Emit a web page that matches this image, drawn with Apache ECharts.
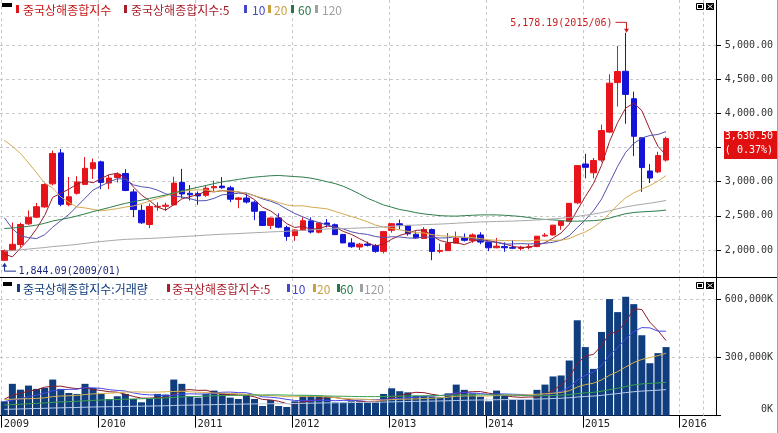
<!DOCTYPE html>
<html><head><meta charset="utf-8">
<script src="https://cdn.jsdelivr.net/npm/echarts@6/dist/echarts.min.js"></script>
<style>html,body{margin:0;padding:0;background:#fff;overflow:hidden}#c{width:778px;height:433px}</style>
</head><body><div id="c"></div>
<script>
// ---------- data ----------
const startYear = 2009, monthCount = 83; // 2009/01 .. 2015/11
const yearLabels = ['2009','2010','2011','2012','2013','2014','2015','2016'];
const priceTicks = [2000,2500,3000,3500,4000,4500,5000];
const volTicks = [0,300000,600000];
const lastChangePct = 0.37;

const open = [1849,1992,2080,2383,2480,2630,2968,3421,2663,2830,2960,3190,
 3290,2980,3060,3120,2850,2580,2373,2630,2640,2660,2990,2830,
 2825,2800,2910,2935,2910,2740,2760,2700,2560,2360,2470,2330,
 2212,2290,2426,2260,2396,2370,2226,2104,2044,2087,2067,1980,
 2289,2384,2360,2230,2170,2300,1980,1990,2100,2174,2140,2220,
 2112,2033,2050,2035,2022,2040,2050,2205,2220,2360,2420,2690,
 3258,3130,3316,3725,4450,4616,4214,3643,3157,3143,3316];
const high = [2007,2403,2400,2580,2689,2975,3454,3478,3068,3080,3361,3338,
 3307,3105,3135,3182,2891,2665,2682,2698,2693,3073,3187,2950,
 2857,2942,3015,3067,2940,2775,2826,2723,2570,2475,2537,2356,
 2302,2478,2478,2400,2454,2388,2238,2172,2103,2123,2085,2276,
 2394,2445,2365,2273,2334,2314,2092,2249,2270,2242,2242,2260,
 2117,2177,2111,2146,2061,2087,2203,2248,2367,2430,2685,3239,
 3407,3347,3836,4572,4987,5178.19,4317,3625,3257,3437,3658];
const low = [1844.09,1990,2037,2367,2467,2620,2945,2640,2639,2810,2950,3040,
 2890,2890,2988,2861,2481,2382,2320,2573,2573,2658,2758,2725,
 2661,2777,2855,2895,2700,2611,2680,2437,2356,2307,2319,2134,
 2133,2286,2242,2242,2330,2219,2100,2032,1999,2051,1960,1949,
 2254,2303,2210,2161,2166,1850,1952,1990,2100,2124,2105,2085,
 1984,2025,1974,2014,1991,2010,2042,2193,2210,2296,2417,2670,
 3049,3050,3287,3710,4099,3848,3374,2851,2979,3125,3293];
const close = [1991,2083,2373,2478,2633,2959,3412,2668,2779,2996,3195,3277,
 2989,3052,3109,2871,2592,2398,2638,2639,2656,2979,2820,2808,
 2791,2905,2928,2912,2743,2762,2702,2567,2359,2468,2333,2199,
 2293,2428,2263,2396,2372,2225,2104,2048,2086,2069,1980,2269,
 2385,2366,2237,2178,2301,1979,1994,2098,2175,2142,2221,2116,
 2033,2056,2033,2026,2039,2048,2202,2217,2364,2420,2683,3235,
 3210,3310,3748,4442,4612,4277,3664,3206,3053,3383,3630.5];
// monthly volume, in K
const volume = [74,164,134,155,138,143,186,138,117,112,164,143,
 112,86,100,112,86,69,86,112,109,186,164,100,
 93,112,129,117,93,86,103,86,50,81,50,45,
 74,103,103,103,93,69,69,74,74,69,69,112,
 141,126,120,103,103,98,95,115,160,133,115,98,
 74,129,103,83,83,83,133,160,202,207,284,491,
 353,241,431,600,533,612,574,414,270,322,353].map(v => v * 1000);
// monthly closes before the window (1999/02 .. 2008/12), used for the moving averages
const prevCloses = [1090,1158,1120,1280,1689,1601,1627,1556,1524,1476,1367,
 1535,1715,1801,1836,1894,1928,2023,2001,1910,1961,2070,2073,
 1958,1907,2112,2119,2214,2218,1920,1834,1707,1690,1748,1646,
 1491,1524,1604,1667,1518,1733,1655,1669,1581,1507,1422,1357,
 1500,1512,1510,1521,1576,1487,1476,1421,1367,1348,1397,1497,
 1590,1675,1742,1595,1555,1399,1386,1342,1396,1320,1340,1266,
 1191,1306,1181,1159,1060,1080,1083,1162,1155,1092,1099,1161,
 1258,1299,1298,1440,1641,1672,1612,1658,1753,1837,2099,2675,
 2786,2881,3184,3841,4109,3821,4471,5219,5552,5955,4871,5262,
 4383,4348,3472,3693,3433,2736,2775,2397,2293,1729,1871,1821];
// monthly volume before the window (1999/02 .. 2008/12), in K
const prevVolume = [5,6,7,22,28,12,9,8,6,6,5,
 10,13,16,12,11,14,15,16,10,9,13,14,
 12,10,16,14,13,12,7,6,5,7,8,6,
 5,6,8,10,7,17,9,7,5,5,5,5,
 10,9,8,14,13,9,8,7,6,6,9,12,
 20,24,26,18,12,10,9,10,14,12,11,9,
 8,14,11,12,10,14,11,22,18,12,13,20,
 24,22,23,40,75,60,45,32,40,38,68,110,
 130,95,140,180,200,120,100,140,110,80,60,75,
 95,70,75,80,75,50,55,45,60,85,100,105].map(v => v * 1000);

// ---------- helpers ----------
const months = [];
for (let i = 0; i < monthCount; i++) {
  const y = startYear + Math.floor(i / 12), m = i % 12 + 1;
  months.push(y + '/' + (m < 10 ? '0' : '') + m);
}
function fmtNum(v, d) {
  const s = Number(v).toFixed(d); const parts = s.split('.');
  return parts[0].replace(/\B(?=(\d{3})+(?!\d))/g, ',') + (parts[1] ? '.' + parts[1] : '');
}
function movingAvg(n, vals, prev) {
  const all = prev.concat(vals), off = prev.length;
  return vals.map((_, i) => { let s = 0; for (let k = off + i - n + 1; k <= off + i; k++) s += all[k]; return s / n; });
}
const maPeriods = [5, 10, 20, 60, 120];
const MAC = {5:'#9a1e2c',10:'#5252b0',20:'#d6aa50',60:'#2e7d4a',120:'#a8a8a8'};
const VMAC = {5:'#8c1a28',10:'#4848e8',20:'#d4b050',60:'#3ca050',120:'#b8cce8'};
const UP = '#e8141c', DOWN = '#1414d8', VOLC = '#0f3d7d';
const GRIDC = '#c8c8c8';
const MONO = '"DejaVu Sans Mono", monospace';
const KR = '"Noto Sans CJK KR", sans-serif';

// layout (month-index units on x)
const xMin = -0.533, xMax = 88.19;
const yearPos = yearLabels.map((y, k) => 12 * k - 0.32);
const extraGridPos = 86.58;
const yMin = 1597.6, yMax = 5658.5, volMax = 708576;

const candleData = months.map((m, i) => [i, open[i], close[i], low[i], high[i]]);
const series = [{
  type: 'candlestick', xAxisIndex: 0, yAxisIndex: 0, data: candleData,
  encode: { x: 0, y: [1, 2, 3, 4] }, barWidth: 6, silent: true,
  itemStyle: { color: UP, color0: DOWN, borderColor: UP, borderColor0: DOWN, borderColorDoji: UP, borderWidth: 1 }
}];
maPeriods.forEach(n => {
  series.push({ type: 'line', xAxisIndex: 0, yAxisIndex: 0, symbol: 'none', silent: true, z: 3,
    data: movingAvg(n, close, prevCloses).map((v, i) => [i, v]), lineStyle: { width: 1, color: MAC[n] } });
});
series.push({ type: 'bar', xAxisIndex: 1, yAxisIndex: 1, barWidth: 7, silent: true,
  data: volume.map((v, i) => [i, v]), itemStyle: { color: VOLC },
  markLine: { symbol: 'none', silent: true, label: { show: false },
    lineStyle: { color: GRIDC, type: [3, 3], width: 1 }, data: [{ xAxis: extraGridPos }] } });
maPeriods.forEach(n => {
  series.push({ type: 'line', xAxisIndex: 1, yAxisIndex: 1, symbol: 'none', silent: true, z: 3,
    data: movingAvg(n, volume, prevVolume).map((v, i) => [i, v]), lineStyle: { width: 1, color: VMAC[n] } });
});

const splitDashed = { show: true, lineStyle: { color: GRIDC, type: [3, 3], width: 1 } };
const option = {
  animation: false,
  backgroundColor: '#fff',
  grid: [{ left: 0, top: 0, width: 716, height: 277.5 }, { left: 0, top: 278, width: 716, height: 137.7 }],
  xAxis: [
    { gridIndex: 0, type: 'value', min: xMin, max: xMax,
      axisLine: { show: false, onZero: false }, axisTick: { show: false, customValues: yearPos.concat([extraGridPos]) },
      axisLabel: { show: false }, splitLine: splitDashed },
    { gridIndex: 1, type: 'value', min: xMin, max: xMax,
      axisLine: { show: true, onZero: false, lineStyle: { color: '#000', width: 1 } },
      axisTick: { show: true, customValues: yearPos, length: 12, lineStyle: { color: '#000' } },
      axisLabel: { customValues: yearPos, formatter: v => yearLabels[Math.round((v + 0.32) / 12)],
        align: 'left', margin: 3, padding: [0, 0, 0, 2], fontFamily: MONO, fontSize: 10.5, color: '#222' },
      splitLine: splitDashed }
  ],
  yAxis: [
    { gridIndex: 0, type: 'value', position: 'right', min: yMin, max: yMax,
      axisLine: { show: true, onZero: false, lineStyle: { color: '#000' } },
      axisTick: { show: true, customValues: priceTicks, length: 5, lineStyle: { color: '#000' } },
      axisLabel: { customValues: priceTicks, formatter: v => fmtNum(v, 2), align: 'right', margin: 57,
        fontFamily: MONO, fontSize: 10, color: '#333' },
      splitLine: splitDashed },
    { gridIndex: 1, type: 'value', position: 'right', min: 0, max: volMax,
      axisLine: { show: true, onZero: false, lineStyle: { color: '#000' } },
      axisTick: { show: true, customValues: volTicks, length: 5, lineStyle: { color: '#000' } },
      axisLabel: { customValues: volTicks, align: 'right', margin: 57, fontFamily: MONO, fontSize: 10, color: '#333',
        formatter: v => v === 0 ? '{z|0K}' : fmtNum(v, 0) + 'K',
        rich: { z: { fontFamily: MONO, fontSize: 10, color: '#333', padding: [0, 0, 13, 0] } } },
      splitLine: splitDashed }
  ],
  series: series
};

const chart = echarts.init(document.getElementById('c'), null, { renderer: 'canvas' });
chart.setOption(option);

// ---------- overlays (legends, icons, annotations, price tag) ----------
const g = [];
function rect(x, y, w, h, fill, stroke) { g.push({ type: 'rect', silent: true, shape: { x, y, width: w, height: h }, style: { fill: fill || 'none', stroke: stroke || null, lineWidth: 1 }, z: 100 }); }
function line(x1, y1, x2, y2, stroke) { g.push({ type: 'line', silent: true, shape: { x1, y1, x2, y2 }, style: { stroke, lineWidth: 1 }, z: 100 }); }
function text(x, y, t, fill, font, align) { g.push({ type: 'text', silent: true, x, y, style: { text: t, fill, font, align: align || 'left', verticalAlign: 'middle' }, z: 101 }); }
function poly(pts, fill) { g.push({ type: 'polygon', silent: true, shape: { points: pts }, style: { fill }, z: 100 }); }

// frame
line(0, 277.5, 778, 277.5, '#000');
line(777.5, 0, 777.5, 433, '#a0a0a0');

// legends
const maLegendColor = { 5: '#a81e2a', 10: '#4646c8', 20: '#c8a040', 60: '#287846', 120: '#a0a0a0' };
rect(2, 3, 10, 4, '#000');
rect(16, 5, 3, 8, '#e01414'); text(23, 10, '중국상해종합지수', '#c81414', '12px ' + KR);
rect(124, 5, 3, 8, maLegendColor[5]); text(131, 10, '중국상해종합지수:' + maPeriods[0], maLegendColor[5], '12px ' + KR);
[[244, 252], [268, 274], [291, 298], [315, 322]].forEach((p, k) => {
  const n = maPeriods[k + 1]; rect(p[0], 5, 3, 8, maLegendColor[n]); text(p[1], 10, String(n), maLegendColor[n], '12px ' + KR);
});
rect(3, 282, 9, 4, '#000');
rect(17, 284, 3, 8, VOLC); text(23, 289, '중국상해종합지수:거래량', VOLC, '12px ' + KR);
rect(167, 284, 3, 8, maLegendColor[5]); text(172, 289, '중국상해종합지수:' + maPeriods[0], maLegendColor[5], '12px ' + KR);
[[287, 292], [313, 317], [337, 340], [360, 364]].forEach((p, k) => {
  const n = maPeriods[k + 1]; rect(p[0], 284, 3, 8, maLegendColor[n]); text(p[1], 289, String(n), maLegendColor[n], '12px ' + KR);
});

// panel icons
[3, 282].forEach(y => {
  rect(696.5, y + 0.5, 7, 6, '#fff', '#000'); rect(698, y + 2, 4, 3, '#000');
  rect(706, y, 8, 7, '#000'); line(707.5, y + 1.5, 712.5, y + 5.5, '#fff'); line(712.5, y + 1.5, 707.5, y + 5.5, '#fff');
});

// high / low annotations
let iMax = 0, iMin = 0;
high.forEach((v, i) => { if (v > high[iMax]) iMax = i; });
low.forEach((v, i) => { if (v < low[iMin]) iMin = i; });
const pH = chart.convertToPixel({ xAxisIndex: 0, yAxisIndex: 0 }, [iMax, high[iMax]]);
const hx = Math.round(pH[0]) + 0.5, hy = pH[1];
line(hx - 11, hy - 10.5, hx, hy - 10.5, '#c81e1e');
line(hx, hy - 10.5, hx, hy - 3, '#c81e1e');
poly([[hx - 2.5, hy - 4], [hx + 2.5, hy - 4], [hx, hy]], '#c81e1e');
text(hx - 14, hy - 9.5, fmtNum(high[iMax], 2) + '(' + months[iMax] + ')', '#c81e1e', '10px ' + MONO, 'right');

const pL = chart.convertToPixel({ xAxisIndex: 0, yAxisIndex: 0 }, [iMin, low[iMin]]);
const lx = Math.round(pL[0]) + 0.5, ly = pL[1];
line(lx, ly + 5, lx, ly + 10.5, '#1e3296');
line(lx, ly + 10.5, lx + 11.5, ly + 10.5, '#1e3296');
poly([[lx - 2.5, ly + 6], [lx + 2.5, ly + 6], [lx, ly + 2]], '#1e3296');
text(lx + 14, ly + 10.5, fmtNum(low[iMin], 2) + '(' + months[iMin] + ')', '#1e2a80', '10px ' + MONO);

// last price tag
const last = close[close.length - 1];
const pC = chart.convertToPixel({ xAxisIndex: 0, yAxisIndex: 0 }, [monthCount - 1, last]);
const ty = pC[1];
rect(724, Math.round(ty - 7.5), 53, 28, '#e01010');
text(773, ty - 1.9, fmtNum(last, 2), '#fff', '10px ' + MONO, 'right');
text(773, ty + 11.4, '( ' + lastChangePct.toFixed(2) + '%)', '#fff', '10px ' + MONO, 'right');

chart.setOption({ graphic: g });
</script>
</body></html>
